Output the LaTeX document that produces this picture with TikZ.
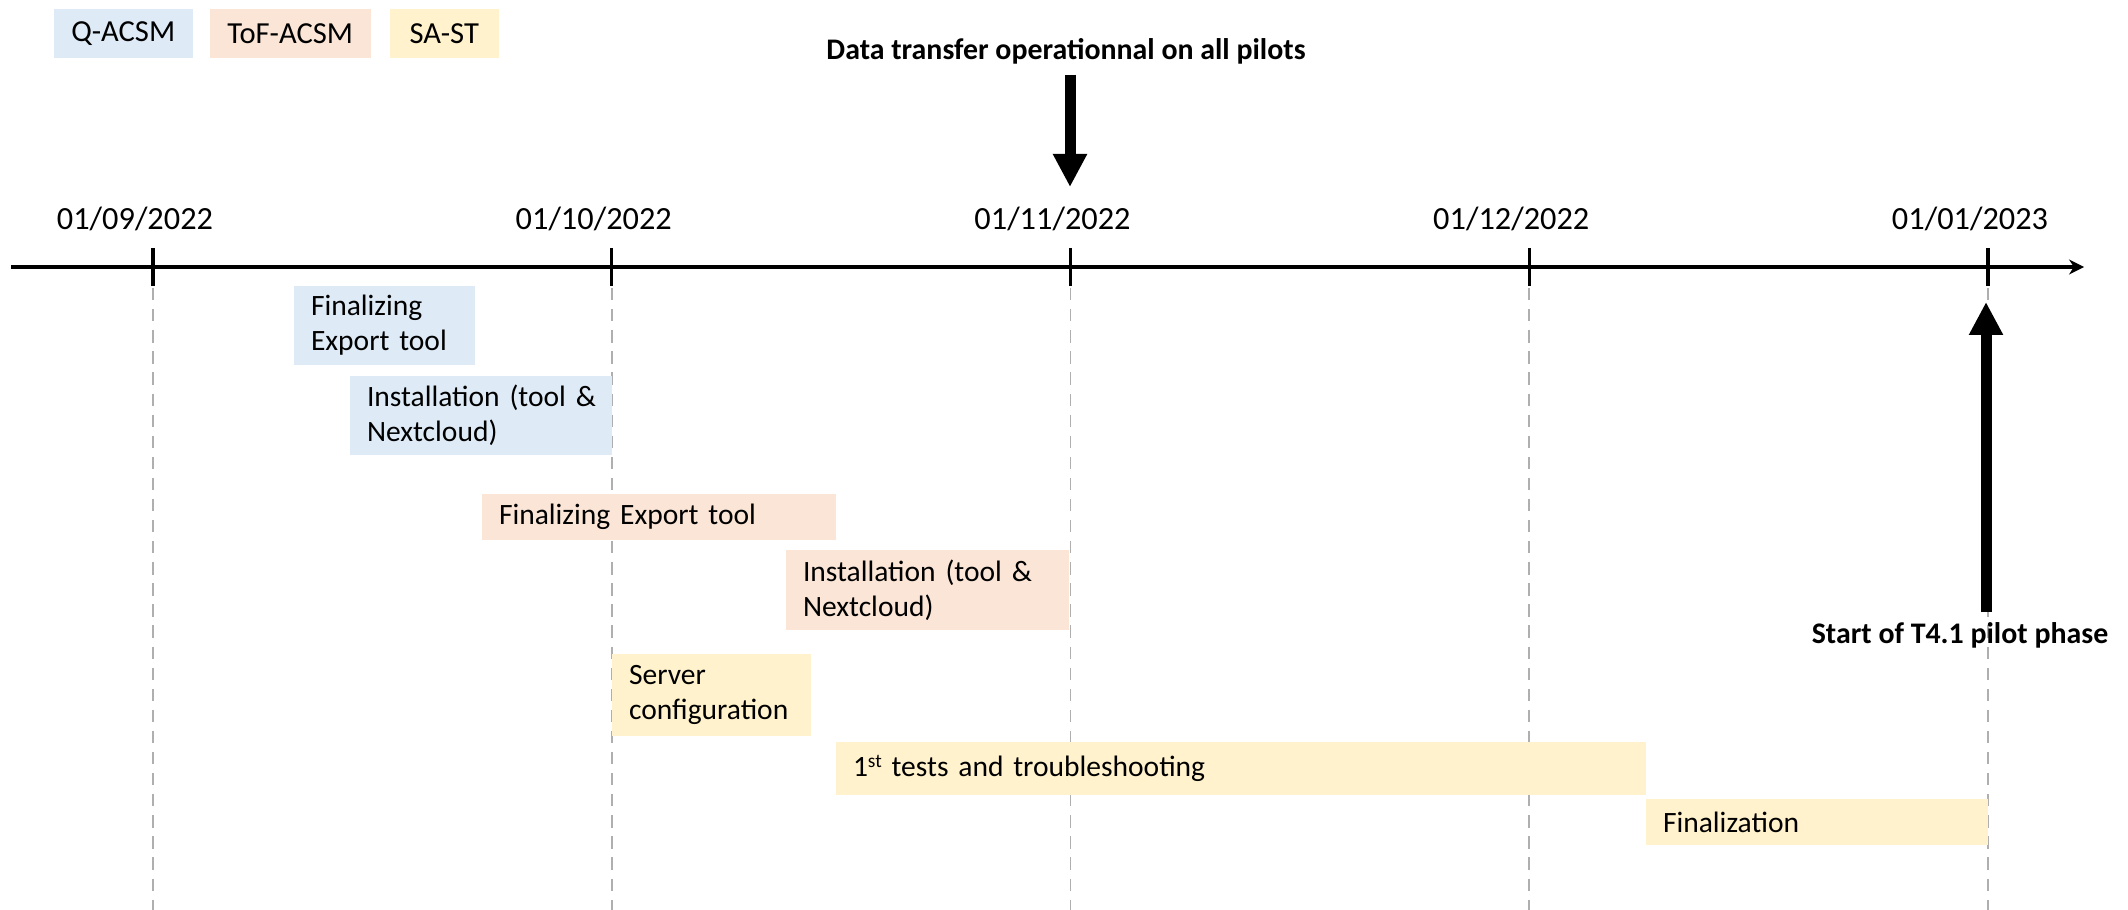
\documentclass[tikz,border=0pt]{standalone}
\usepackage{fontspec}
\setmainfont{Carlito}
\usetikzlibrary{arrows.meta, positioning}
\definecolor{qacsm}{HTML}{DEEBF7}
\definecolor{tofacsm}{HTML}{FBE5D6}
\definecolor{sast}{HTML}{FFF2CC}
\definecolor{guidegray}{RGB}{175,175,175}

\begin{document}
\begin{tikzpicture}[
  task/.style={rectangle, fill=#1, inner xsep=0.17cm, inner ysep=0pt, outer sep=0pt,
    anchor=north west, align=left, font=\fontsize{8.4}{10}\selectfont},
  legend/.style={rectangle, fill=#1, inner sep=0pt, minimum height=0.49cm,
    anchor=north west, font=\fontsize{8.7}{10}\selectfont},
  datelbl/.style={anchor=base, font=\fontsize{9.2}{11}\selectfont},
  milestone/.style={anchor=base, inner sep=1mm, outer sep=0pt,
    font=\fontsize{8.5}{10}\selectfont\bfseries},
  bigarrow/.style={-{Triangle[width=0.32cm, length=0.33cm]}, line width=0.11cm},
  axis/.style={-{Stealth[length=0.15cm, width=0.15cm]}, line width=0.9pt},
  tickmark/.style={line width=0.9pt},
  guide/.style={guidegray, line width=0.45pt, dash pattern=on 3.5pt off 2.5pt}
]
\useasboundingbox (0,0) rectangle (21.28,-9.10);

% legend
\node[legend=qacsm, minimum width=1.39cm] (lq) at (0.53,-0.08) {Q-ACSM};
\node[legend=tofacsm, minimum width=1.61cm] (ltof) at (2.09,-0.08) {ToF-ACSM};
\node[legend=sast, minimum width=1.09cm] (lsa) at (3.89,-0.08) {SA-ST};

% time axis, months and guides
\coordinate (axstart) at (0.11,-2.67);
\coordinate (axend) at (20.84,-2.67);
\foreach \d [count=\i from 0] in {01/09/2022, 01/10/2022, 01/11/2022, 01/12/2022, 01/01/2023} {
  \coordinate (m\i) at ({1.53+4.5875*\i},-2.67);
  \draw[guide] (m\i) -- ++(0,-6.43);
  \node[datelbl] (d\i) at ([xshift=-0.18cm, yshift=0.37cm]m\i) {\d};
}
\draw[axis] (axstart) -- (axend);
\foreach \i in {0,...,4}
  \draw[tickmark] ([yshift=0.19cm]m\i) -- ([yshift=-0.19cm]m\i);

% tasks
\node[task=qacsm, text width=1.47cm, minimum height=0.79cm] (qexport) at (2.94,-2.86) {Finalizing\\Export tool};
\node[task=qacsm, text width=2.28cm, minimum height=0.79cm] (qinstall) at (3.50,-3.76) {Installation~(tool~\&\\Nextcloud)};
\node[task=tofacsm, text width=3.20cm, minimum height=0.46cm] (tofexport) at (4.82,-4.94) {Finalizing Export tool};
\node[task=tofacsm, text width=2.49cm, minimum height=0.80cm] (tofinstall) at (7.86,-5.50) {Installation~(tool~\&\\Nextcloud)};
\node[task=sast, text width=1.65cm, minimum height=0.82cm] (server) at (6.12,-6.54) {Server\\configuration};
\node[task=sast, text width=7.76cm, minimum height=0.53cm] (tests) at (8.36,-7.42) {1\raisebox{0.3em}{\fontsize{5.5}{6}\selectfont st} tests and troubleshooting};
\node[task=sast, text width=3.08cm, minimum height=0.46cm] (final) at (16.46,-7.99) {Finalization};

% milestones
\node[milestone] (transfer) at (10.66,-0.60) {Data transfer operationnal on all pilots};
\coordinate (novtip) at (10.70,-1.87);
\draw[bigarrow] (transfer.south -| novtip) -- (novtip);

\node[milestone] (pilot) at (19.60,-6.43) {Start of T4.1 pilot phase};
\coordinate (jantip) at (19.86,-3.02);
\draw[bigarrow] (pilot.north -| jantip) -- (jantip);
\end{tikzpicture}
\end{document}
